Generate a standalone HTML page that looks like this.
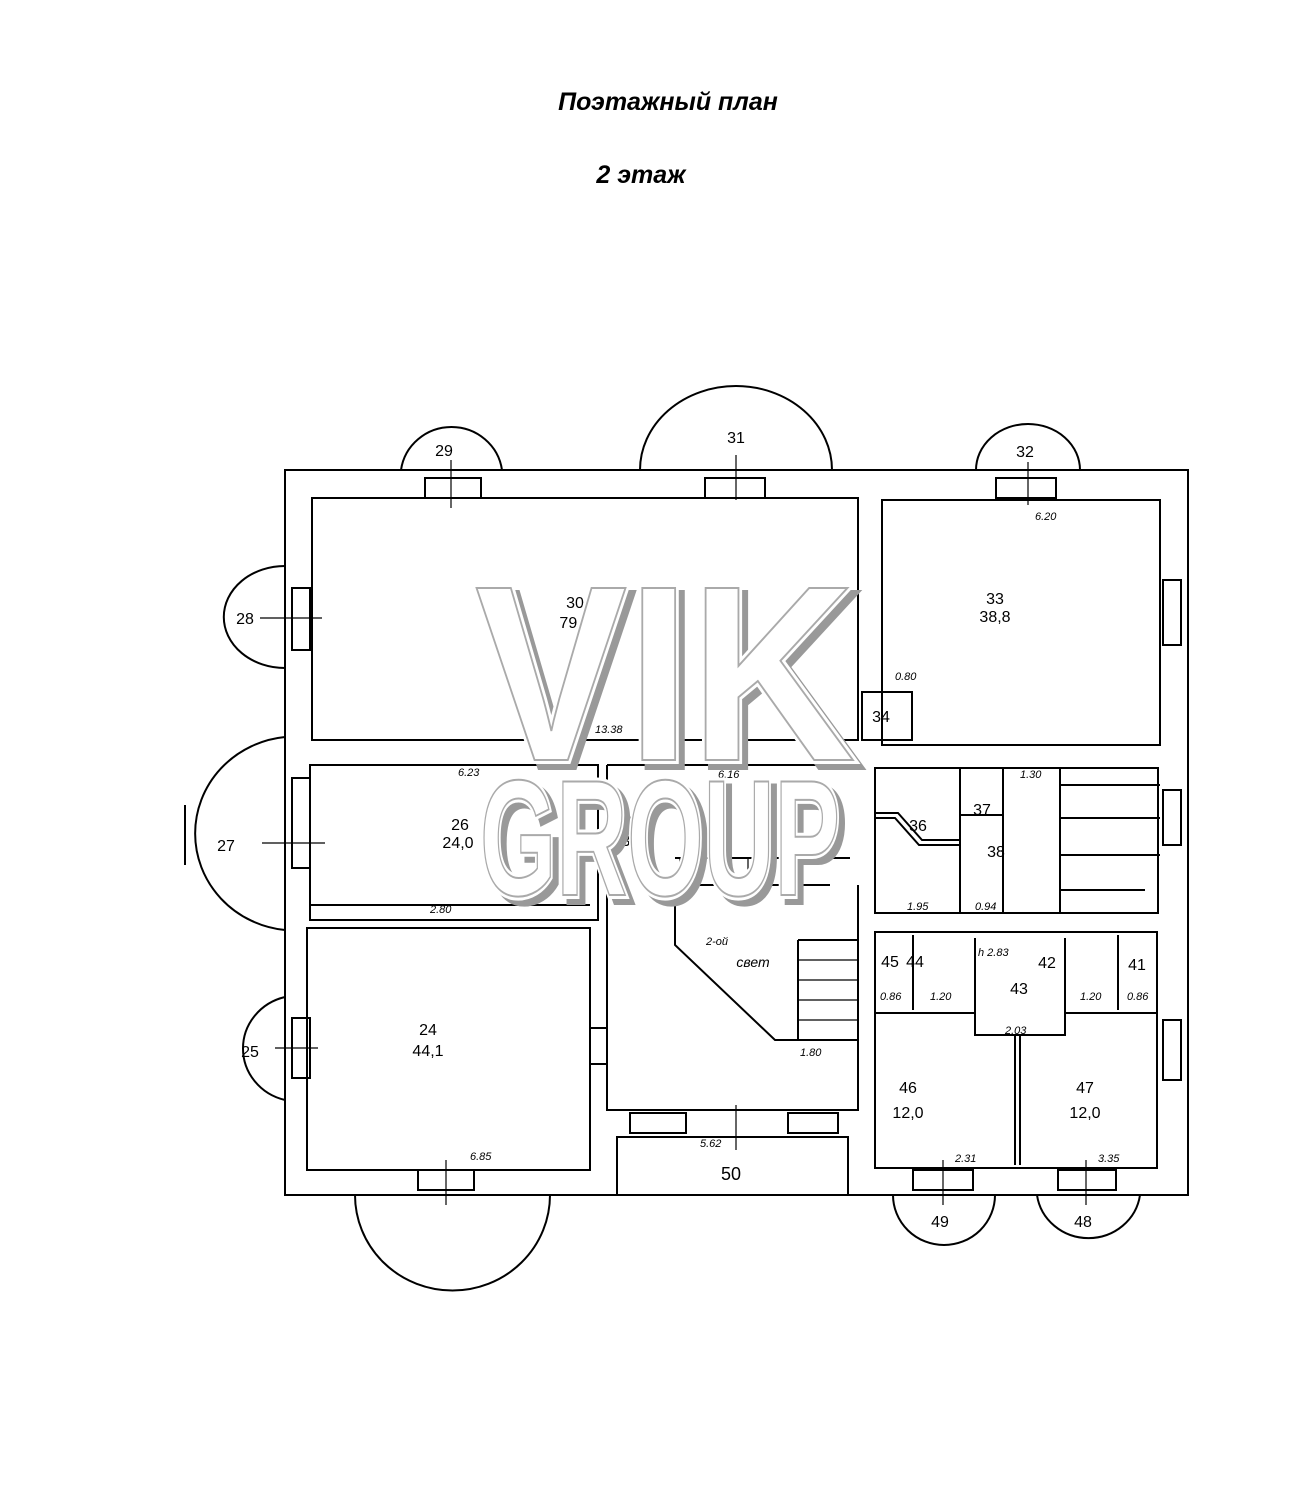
<!DOCTYPE html>
<html><head><meta charset="utf-8"><style>
html,body{margin:0;padding:0;background:#fff;width:1311px;height:1500px;overflow:hidden}
svg{display:block}
.t{font-family:"Liberation Sans",sans-serif;fill:#000}
.s{font-family:"Liberation Sans",sans-serif;font-size:11px;font-style:italic;fill:#000}
</style></head><body>
<svg width="1311" height="1500" viewBox="0 0 1311 1500" xmlns="http://www.w3.org/2000/svg">
<text x="668" y="110" text-anchor="middle" class="t" font-size="25" font-weight="bold" font-style="italic">Поэтажный план</text>
<text x="641" y="183" text-anchor="middle" class="t" font-size="25" font-weight="bold" font-style="italic">2 этаж</text>
<g fill="none" stroke="#000" stroke-width="2">
<path d="M401 470 A51 50 0 0 1 502 470"/>
<path d="M640 470 A96 84 0 0 1 832 470"/>
<path d="M976 470 A52 46 0 0 1 1080 470"/>
<path d="M285 566 A60 50 0 0 0 285 668"/>
<path d="M285 737 A100 97 0 0 0 285 930"/>
<path d="M185 805 L185 865"/>
<path d="M285 997 A55 53 0 0 0 285 1100"/>
<path d="M355 1195 A97 95 0 0 0 550 1195"/>
<path d="M893 1195 A51 50 0 0 0 995 1195"/>
<path d="M1037 1195 A52 50 0 0 0 1140 1195"/>
<rect x="285" y="470" width="903" height="725"/>
<rect x="312" y="498" width="546" height="242"/>
<rect x="882" y="500" width="278" height="245"/>
<rect x="310" y="765" width="288" height="155"/>
<rect x="307" y="928" width="283" height="242"/>
<path d="M607 765 L858 765 M607 765 L607 1110 L858 1110 L858 885"/>
<path d="M675 885 L675 945 L775 1040 L858 1040 M675 885 L830 885 M675 858 L850 858"/>
<path d="M798 940 L858 940 L858 1040 M798 940 L798 1040"/>
<rect x="617" y="1137" width="231" height="58"/>
<rect x="875" y="768" width="283" height="145"/>
<rect x="875" y="932" width="282" height="236"/>
<path d="M875 1013 L975 1013 M1065 1013 L1157 1013 M975 938 L975 1035 L1065 1035 L1065 938"/>
<path d="M1015 1035 L1015 1165 M1020 1035 L1020 1165"/>
<path d="M913 935 L913 1010 M1118 935 L1118 1010"/>
<path d="M960 768 L960 913 M1003 768 L1003 913 M1060 768 L1060 913 M960 815 L1003 815"/>
<path d="M875 813 L898 813 L922 840 L960 840 M875 818 L895 818 L919 845 L960 845"/>
<path d="M1060 785 L1160 785 M1060 818 L1160 818 M1060 855 L1160 855 M1060 890 L1145 890"/>
<path d="M862 692 L912 692 L912 740 L862 740Z"/>
<path d="M310 905 L590 905"/>
<rect x="425" y="478" width="56" height="20"/><rect x="705" y="478" width="60" height="20"/><rect x="996" y="478" width="60" height="20"/>
<rect x="292" y="588" width="18" height="62"/><rect x="292" y="778" width="18" height="90"/><rect x="292" y="1018" width="18" height="60"/>
<rect x="418" y="1170" width="56" height="20"/><rect x="913" y="1170" width="60" height="20"/><rect x="1058" y="1170" width="58" height="20"/>
<rect x="1163" y="580" width="18" height="65"/><rect x="1163" y="1020" width="18" height="60"/><rect x="1163" y="790" width="18" height="55"/>
<rect x="630" y="1113" width="56" height="20"/><rect x="788" y="1113" width="50" height="20"/>
<rect x="590" y="1028" width="17" height="36"/>
</g>
<g fill="none" stroke="#000" stroke-width="1.2">
<path d="M451 460 L451 508 M736 455 L736 500 M1028 462 L1028 505 M260 618 L322 618 M262 843 L325 843 M275 1048 L318 1048 M446 1160 L446 1205 M943 1160 L943 1205 M1086 1160 L1086 1205 M736 1105 L736 1150"/>
<path d="M680 858 v20 M695 858 v20 M712 858 v20 M730 858 v20 M748 858 v20 M766 858 v20 M784 858 v20 M800 858 v20 M798 960 h60 M798 980 h60 M798 1000 h60 M798 1020 h60"/>
</g>
<g class="t" font-size="16" text-anchor="middle">
<text x="444" y="456">29</text><text x="736" y="443">31</text><text x="1025" y="457">32</text>
<text x="245" y="624">28</text><text x="226" y="851">27</text><text x="250" y="1057">25</text>
<text x="575" y="608">30</text><text x="575" y="628">79,5</text>
<text x="995" y="604">33</text><text x="995" y="622">38,8</text><text x="881" y="722">34</text>
<text x="460" y="830">26</text><text x="458" y="848">24,0</text>
<text x="637" y="827">35</text><text x="637" y="846">35,8</text>
<text x="918" y="831">36</text><text x="982" y="815">37</text><text x="996" y="857">38</text>
<text x="428" y="1035">24</text><text x="428" y="1056">44,1</text>
<text x="890" y="967">45</text><text x="915" y="967">44</text><text x="1019" y="994">43</text><text x="1047" y="968">42</text><text x="1137" y="970">41</text>
<text x="908" y="1093">46</text><text x="908" y="1118">12,0</text><text x="1085" y="1093">47</text><text x="1085" y="1118">12,0</text>
<text x="731" y="1180" font-size="18">50</text>
<text x="940" y="1227">49</text><text x="1083" y="1227">48</text>
<text x="753" y="967" font-size="14" font-style="italic">свет</text>
</g>
<g class="s">
<text x="595" y="733">13.38</text><text x="1035" y="520">6.20</text><text x="895" y="680">0.80</text><text x="458" y="776">6.23</text><text x="718" y="778">6.16</text><text x="755" y="849">4.46</text><text x="430" y="913">2.80</text><text x="470" y="1160">6.85</text><text x="700" y="1147">5.62</text><text x="800" y="1056">1.80</text><text x="1020" y="778">1.30</text><text x="978" y="956">h 2.83</text><text x="1005" y="1034">2.03</text><text x="930" y="1000">1.20</text><text x="1080" y="1000">1.20</text><text x="880" y="1000">0.86</text><text x="1127" y="1000">0.86</text><text x="955" y="1162">2.31</text><text x="1098" y="1162">3.35</text><text x="907" y="910">1.95</text><text x="975" y="910">0.94</text><text x="706" y="945">2-ой</text>
</g>
<g font-family="Liberation Sans,sans-serif" font-weight="bold" fill="#999" stroke="#999" stroke-width="8" text-anchor="middle">
<text x="671" y="766" font-size="250" textLength="380" lengthAdjust="spacingAndGlyphs">VIK</text>
<text x="666" y="901" font-size="165" textLength="360" lengthAdjust="spacingAndGlyphs">GROUP</text>
</g>
<g font-family="Liberation Sans,sans-serif" font-weight="bold" fill="#fff" stroke="#fff" stroke-width="8" text-anchor="middle">
<text x="665" y="760" font-size="250" textLength="380" lengthAdjust="spacingAndGlyphs">VIK</text>
<text x="660" y="895" font-size="165" textLength="360" lengthAdjust="spacingAndGlyphs">GROUP</text>
</g>
<g font-family="Liberation Sans,sans-serif" font-weight="bold" fill="#fff" stroke="#aaa" stroke-width="2" text-anchor="middle">
<text x="665" y="760" font-size="250" textLength="380" lengthAdjust="spacingAndGlyphs">VIK</text>
<text x="660" y="895" font-size="165" textLength="360" lengthAdjust="spacingAndGlyphs">GROUP</text>
</g>
</svg>
</body></html>
